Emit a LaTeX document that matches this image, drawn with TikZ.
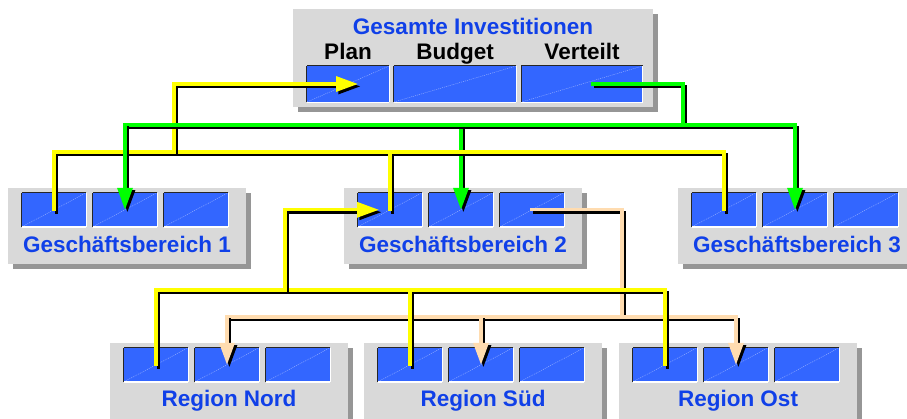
\documentclass[tikz,border=0pt]{standalone}
\usepackage{fontspec}
\setmainfont{Liberation Sans}
\usetikzlibrary{arrows.meta,shadows}

\definecolor{boxgray}{RGB}{217,217,217}
\definecolor{shadowgray}{RGB}{150,150,150}
\definecolor{cellblue}{RGB}{51,102,255}
\definecolor{titleblue}{RGB}{16,64,232}
\definecolor{plancol}{RGB}{255,255,0}
\definecolor{distcol}{RGB}{0,255,0}
\definecolor{regcol}{RGB}{255,220,176}

\tikzset{
	panel/.style={rectangle,fill=boxgray,inner sep=0pt,minimum width=238pt,minimum height=76pt,
		drop shadow={shadow xshift=5pt,shadow yshift=-5pt,fill=shadowgray,opacity=1}},
	cell/.style={rectangle,fill=cellblue,inner sep=0pt,minimum width=64pt,minimum height=34pt,
		path picture={\draw[cellblue!45!white,line width=0.4pt,dash pattern=on 1pt off 1pt]
			(path picture bounding box.south west) -- (path picture bounding box.north east);},
		append after command={
			(\tikzlastnode.south west) edge[draw=white,line width=1.2pt] (\tikzlastnode.south east)
			(\tikzlastnode.south east) edge[draw=white,line width=1.2pt] (\tikzlastnode.north east)
			(\tikzlastnode.south west) edge[draw=black!85,line width=1.2pt] (\tikzlastnode.north west)
			(\tikzlastnode.north west) edge[draw=black!85,line width=1.2pt] (\tikzlastnode.north east)}},
	boxtitle/.style={font=\fontsize{22.5}{27}\selectfont\bfseries,text=titleblue,inner sep=0pt,anchor=base},
	colhead/.style={font=\fontsize{22.5}{27}\selectfont\bfseries,text=black,inner sep=0pt,anchor=base},
	wire/.style={line width=3.2pt,line cap=rect,line join=miter},
	arrowed/.style={-{Triangle[length=22pt,width=15pt]}}
}

% coloured line with its black shadow below right
\newcommand{\wire}[2]{%
	\draw[wire,#1,draw=black,transform canvas={shift={(2.4pt,-2.4pt)}}] #2;
	\draw[wire,#1] #2;}

\begin{document}
\begin{tikzpicture}[x=1pt,y=-1pt]
	\useasboundingbox (0,0) rectangle (907,418);
	\clip (0,0) rectangle (907,418);

	\node[panel,minimum width=360pt,minimum height=98pt] (gesamt) at (473,58) {};
	\node[boxtitle] (gesamt-title) at ([yshift=-26pt]gesamt.north) {Gesamte Investitionen};
	\foreach \name/\xc/\w/\head in {plan/348/82pt/Plan,budget/455/122pt/Budget,verteilt/582/121pt/Verteilt}{
		\node[cell,minimum width=\w,minimum height=36pt] (\name) at (\xc,84) {};
		\node[colhead] (\name-head) at ([yshift=25pt]\name.center) {\head};
	}

	\foreach \n/\xc in {1/127,2/463,3/797}{
		\node[panel] (gb\n) at (\xc,226) {};
		\foreach \i/\dx in {1/-73pt,2/-2pt,3/69pt}
			\node[cell] (gb\n-\i) at ([xshift=\dx,yshift=-22pt]gb\n.north) {};
		\node[boxtitle] (gb\n-title) at ([yshift=-65pt]gb\n.north) {Geschäftsbereich \n};
	}

	\foreach \r/\xc/\txt in {nord/229/Region Nord,sued/483/Region Süd,ost/738/Region Ost}{
		\node[panel] (\r) at (\xc,381) {};
		\foreach \i/\dx in {1/-73pt,2/-2pt,3/69pt}
			\node[cell] (\r-\i) at ([xshift=\dx,yshift=-22pt]\r.north) {};
		\node[boxtitle] (\r-title) at ([yshift=-64pt]\r.north) {\txt};
	}

	\coordinate (planbus) at (174,152);
	\coordinate (distbus) at (683,125);
	\coordinate (regbus) at (285,290);
	\coordinate (regdrop) at (622,317);

	\wire{regcol}{(gb2-3.center) -| (regdrop) (nord-2.center |- regdrop) -- (ost-2.center |- regdrop)}
	\foreach \r in {nord,sued,ost}{
		\wire{regcol,arrowed}{(\r-2.center |- regdrop) -- (\r-2.center)}
	}

	\wire{plancol}{(nord-1.center) |- (ost-1.center |- regbus) -- (ost-1.center) (sued-1.center |- regbus) -- (sued-1.center)}
	\wire{plancol,arrowed}{(regbus) |- ([xshift=-11pt]gb2-1.center)}

	\wire{distcol,arrowed}{(gb2-2.center |- distbus) -- (gb2-2.center)}
	\wire{plancol}{(gb1-1.center) |- (gb3-1.center |- planbus) -- (gb3-1.center) (gb2-1.center |- planbus) -- (gb2-1.center)}
	\wire{plancol,arrowed}{(planbus) |- ([xshift=10pt]plan.center)}

	\wire{distcol}{([xshift=11pt]verteilt.center) -| (distbus) (gb1-2.center |- distbus) -- (gb3-2.center |- distbus)}
	\wire{distcol,arrowed}{(gb1-2.center |- distbus) -- (gb1-2.center)}
	\wire{distcol,arrowed}{(gb3-2.center |- distbus) -- (gb3-2.center)}
\end{tikzpicture}
\end{document}
